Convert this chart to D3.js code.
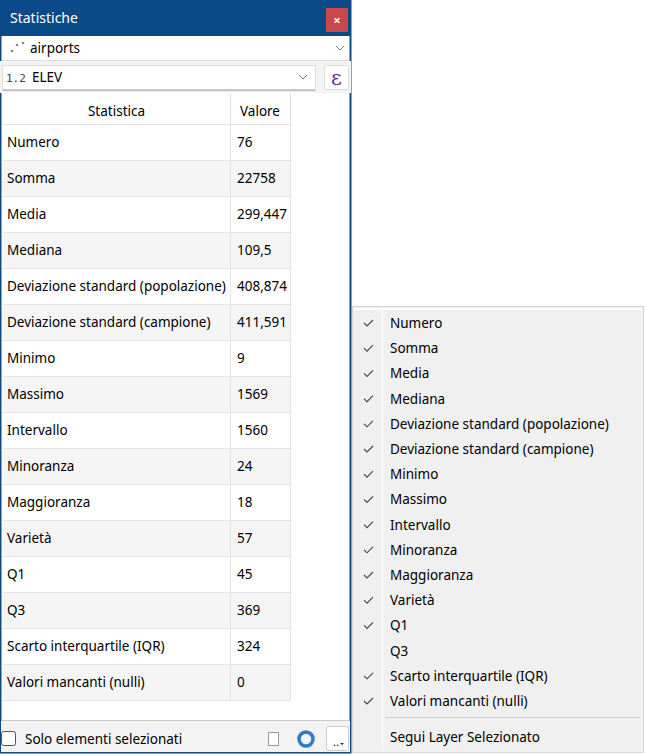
<!DOCTYPE html>
<html><head><meta charset="utf-8">
<script src="https://cdn.jsdelivr.net/npm/d3@7"></script>
<style>body{margin:0;background:#fff;font-family:"Noto Sans",sans-serif}</style>
</head><body>
<svg width="646" height="754"></svg>
<script>
// dati della tabella
var statistiche = ["Numero","Somma","Media","Mediana","Deviazione standard (popolazione)","Deviazione standard (campione)","Minimo","Massimo","Intervallo","Minoranza","Maggioranza","Varietà","Q1","Q3","Scarto interquartile (IQR)","Valori mancanti (nulli)"];
var valori = ["76","22758","299,447","109,5","408,874","411,591","9","1569","1560","24","18","57","45","369","324","0"];
// voci del menu e se sono spuntate
var vociMenu = ["Numero","Somma","Media","Mediana","Deviazione standard (popolazione)","Deviazione standard (campione)","Minimo","Massimo","Intervallo","Minoranza","Maggioranza","Varietà","Q1","Q3","Scarto interquartile (IQR)","Valori mancanti (nulli)"];
var spunte = [1,1,1,1,1,1,1,1,1,1,1,1,1,0,1,1];

var svg = d3.select("svg");
var fs = 13.5;

// finestra
svg.append("rect").attr("x",0.5).attr("y",0.5).attr("width",350).attr("height",752).attr("fill","#fff").attr("stroke","#0f4a85").attr("stroke-width",2);
svg.append("rect").attr("x",0).attr("y",0).attr("width",351).attr("height",36).attr("fill","#0b4a89");
svg.append("text").attr("x",10).attr("y",23).attr("fill","#fff").attr("font-size",14).text("Statistiche");
svg.append("rect").attr("x",326).attr("y",8).attr("width",22).attr("height",24).attr("fill","#c9474a");
svg.append("text").attr("x",337).attr("y",25).attr("text-anchor","middle").attr("fill","#fff").attr("font-size",13).attr("font-weight","bold").text("×");

// combo layer
svg.append("rect").attr("x",2).attr("y",37).attr("width",347).attr("height",23).attr("fill","#fff");
svg.append("line").attr("x1",2).attr("x2",349).attr("y1",60.5).attr("y2",60.5).attr("stroke","#ddd");
[[12,51],[17,45],[23,43]].forEach(function(p){svg.append("circle").attr("cx",p[0]).attr("cy",p[1]).attr("r",1.3).attr("fill","#888");});
svg.append("text").attr("x",30).attr("y",53).attr("font-size",fs).text("airports");
svg.append("path").attr("d","M336,46 l4,4 l4,-4").attr("fill","none").attr("stroke","#777");

// combo campo
svg.append("rect").attr("x",0).attr("y",61).attr("width",351).attr("height",32).attr("fill","#f3f3f3");
svg.append("rect").attr("x",2.5).attr("y",65.5).attr("width",313).attr("height",25).attr("fill","#fff").attr("stroke","#ddd");
svg.append("line").attr("x1",3).attr("x2",315).attr("y1",90).attr("y2",90).attr("stroke","#999");
svg.append("text").attr("x",6).attr("y",82).attr("font-size",11).attr("font-family","DejaVu Sans Mono").attr("fill","#444").text("1.2");
svg.append("text").attr("x",32).attr("y",82).attr("font-size",fs).text("ELEV");
svg.append("path").attr("d","M299,75 l4,4 l4,-4").attr("fill","none").attr("stroke","#777");
svg.append("rect").attr("x",324.5).attr("y",65.5).attr("width",24).attr("height",24).attr("rx",2).attr("fill","#fff").attr("stroke","#ddd");
svg.append("text").attr("x",336.5).attr("y",85).attr("text-anchor","middle").attr("font-size",21).attr("fill","#6d2e7e").attr("font-family","DejaVu Serif").text("ε");

// tabella
var col1 = 3, col2 = 230, col3 = 290, top0 = 124, rh = 36;
var y = d3.scaleBand().domain(d3.range(statistiche.length)).range([top0, top0 + rh*statistiche.length]);
svg.append("rect").attr("x",col1).attr("y",94).attr("width",col3-col1).attr("height",30).attr("fill","#fff");
svg.append("line").attr("x1",col2+0.5).attr("x2",col2+0.5).attr("y1",94).attr("y2",124).attr("stroke","#ddd");
svg.append("line").attr("x1",col3+0.5).attr("x2",col3+0.5).attr("y1",94).attr("y2",124).attr("stroke","#ddd");
svg.append("text").attr("x",(col1+col2)/2).attr("y",116).attr("text-anchor","middle").attr("font-size",fs).text("Statistica");
svg.append("text").attr("x",(col2+col3)/2).attr("y",116).attr("text-anchor","middle").attr("font-size",fs).text("Valore");

var righe = svg.append("g").selectAll("g").data(statistiche).enter().append("g")
  .attr("transform", function(d,i){return "translate(0," + y(i) + ")";});
righe.append("rect").attr("x",col1).attr("width",col3-col1).attr("height",rh)
  .attr("fill", function(d,i){return i%2 ? "#f5f5f5" : "#fff";});
righe.append("line").attr("x1",col1).attr("x2",col3).attr("y1",0.5).attr("y2",0.5).attr("stroke","#e3e3e3");
righe.append("line").attr("x1",col2+0.5).attr("x2",col2+0.5).attr("y1",0).attr("y2",rh).attr("stroke","#e3e3e3");
righe.append("line").attr("x1",col3+0.5).attr("x2",col3+0.5).attr("y1",0).attr("y2",rh).attr("stroke","#e3e3e3");
righe.append("text").attr("x",7).attr("y",23).attr("font-size",fs).text(function(d){return d;});
righe.append("text").attr("x",col2+7).attr("y",23).attr("font-size",fs).text(function(d,i){return valori[i];});
svg.append("line").attr("x1",col1).attr("x2",col3).attr("y1",top0+rh*16+0.5).attr("y2",top0+rh*16+0.5).attr("stroke","#e3e3e3");
svg.append("line").attr("x1",2).attr("x2",349).attr("y1",720.5).attr("y2",720.5).attr("stroke","#ccc");

// barra in basso
svg.append("rect").attr("x",1).attr("y",721).attr("width",349).attr("height",31).attr("fill","#f3f3f3");
svg.append("rect").attr("x",1.5).attr("y",731.5).attr("width",14).attr("height",14).attr("rx",2).attr("fill","#fff").attr("stroke","#555");
svg.append("text").attr("x",25).attr("y",744).attr("font-size",fs).text("Solo elementi selezionati");
svg.append("rect").attr("x",268.5).attr("y",732.5).attr("width",10).attr("height",13).attr("fill","#fff").attr("stroke","#999");
svg.append("circle").attr("cx",306).attr("cy",739).attr("r",7).attr("fill","none").attr("stroke","#2f79c9").attr("stroke-width",3.5);
svg.append("rect").attr("x",326.5).attr("y",726.5).attr("width",22).attr("height",24).attr("rx",2).attr("fill","#fff").attr("stroke","#ccc");
svg.append("text").attr("x",333).attr("y",746).attr("font-size",11).text("..");
svg.append("path").attr("d","M340,743 l4,0 l-2,2 z").attr("fill","#333");

// menu
var mx = 352, mtop = 306;
svg.append("rect").attr("x",mx+0.5).attr("y",mtop+0.5).attr("width",291).attr("height",446).attr("fill","#f0f0f0").attr("stroke","#d6d6d6");
svg.append("rect").attr("x",mx+2).attr("y",mtop+2).attr("width",288).attr("height",2).attr("fill","#fff");
svg.append("line").attr("x1",382.5).attr("x2",382.5).attr("y1",mtop+4).attr("y2",750).attr("stroke","#fff");
var my = d3.scaleLinear().domain([0,15]).range([323,701]);
var voci = svg.append("g").selectAll("g").data(vociMenu).enter().append("g")
  .attr("transform", function(d,i){return "translate(0," + my(i) + ")";});
voci.append("text").attr("x",390).attr("y",5).attr("font-size",fs).text(function(d){return d;});
voci.filter(function(d,i){return spunte[i];}).append("path").attr("d","M364,0 l3,3 l6,-6")
  .attr("fill","none").attr("stroke","#444").attr("stroke-width",1.1);
svg.append("line").attr("x1",385).attr("x2",640).attr("y1",717.5).attr("y2",717.5).attr("stroke","#d0d0d0");
svg.append("text").attr("x",390).attr("y",742).attr("font-size",fs).text("Segui Layer Selezionato");
</script>
</body></html>
